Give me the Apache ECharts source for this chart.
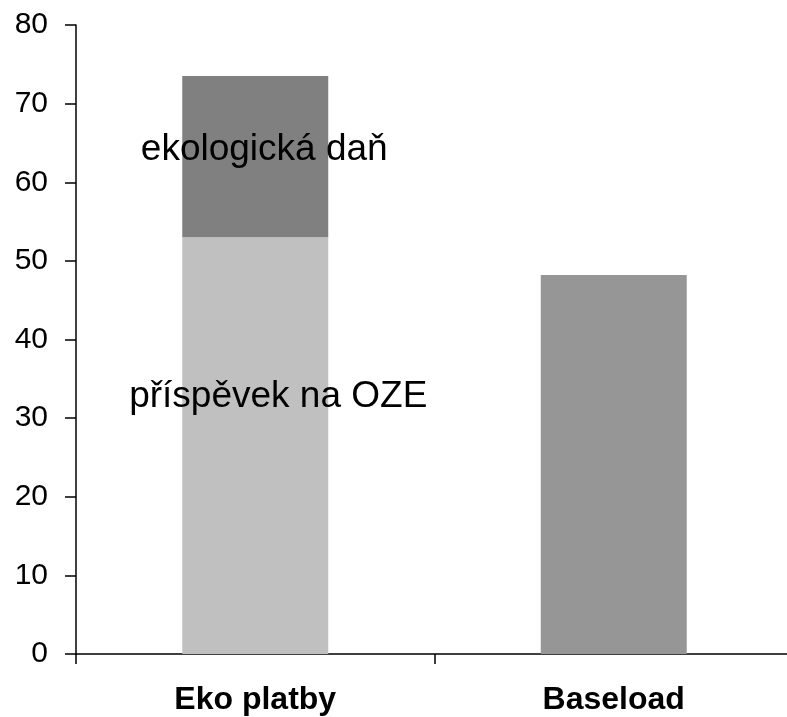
<!DOCTYPE html>
<html>
<head>
<meta charset="utf-8">
<script src="https://cdn.jsdelivr.net/npm/echarts@6/dist/echarts.min.js"></script>
<style>
    html, body { margin: 0; padding: 0; background: #fff; overflow: hidden; }
    #chart { width: 795px; height: 717px; }
</style>
</head>
<body>
<div id="chart"></div>
<script>
var categories = ['Eko platby', 'Baseload'];
var ozeData = [53, '-'];
var ekoDanData = [20.5, '-'];
var baseloadData = ['-', 48.2];
var yTicks = [0, 10, 20, 30, 40, 50, 60, 70, 80];

var chart = echarts.init(document.getElementById('chart'));

var font = 'Liberation Sans, Arial, sans-serif';

var option = {
    animation: false,
    grid: {
        left: 76,
        right: 2,
        top: 25,
        bottom: 63
    },
    xAxis: {
        type: 'category',
        data: categories,
        axisLine: { lineStyle: { color: '#000', width: 1.5 } },
        axisTick: { show: true, length: 10, lineStyle: { color: '#000', width: 1.5 } },
        axisLabel: {
            margin: 30,
            color: '#000',
            fontFamily: font,
            fontWeight: 'bold',
            fontSize: 32
        }
    },
    yAxis: {
        type: 'value',
        min: yTicks[0],
        max: yTicks[yTicks.length - 1],
        interval: 10,
        splitLine: { show: false },
        axisLine: { show: true, lineStyle: { color: '#000', width: 1.5 } },
        axisTick: { show: true, length: 11, lineStyle: { color: '#000', width: 1.5 } },
        axisLabel: {
            margin: 28,
            color: '#000',
            fontFamily: font,
            fontSize: 30
        }
    },
    series: [{
        name: 'příspěvek na OZE',
        type: 'bar',
        stack: 'a',
        barWidth: 146,
        data: ozeData,
        itemStyle: { color: '#c0c0c0' },
        label: {
            show: true,
            position: 'inside',
            offset: [23, -49],
            formatter: 'příspěvek na OZE',
            color: '#000',
            fontFamily: font,
            fontSize: 37
        }
    }, {
        name: 'ekologická daň',
        type: 'bar',
        stack: 'a',
        barWidth: 146,
        data: ekoDanData,
        itemStyle: { color: '#808080' },
        label: {
            show: true,
            position: 'inside',
            offset: [9, -7],
            formatter: 'ekologická daň',
            color: '#000',
            fontFamily: font,
            fontSize: 37
        }
    }, {
        name: 'Baseload',
        type: 'bar',
        stack: 'a',
        barWidth: 146,
        data: baseloadData,
        itemStyle: { color: '#969696' }
    }]
};

chart.setOption(option);
</script>
</body>
</html>
